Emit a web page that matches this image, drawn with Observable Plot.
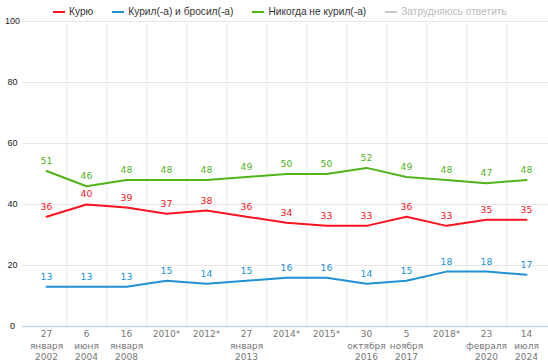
<!DOCTYPE html>
<html><head><meta charset="utf-8">
<script src="https://cdn.jsdelivr.net/npm/d3@7"></script>
<script src="https://cdn.jsdelivr.net/npm/@observablehq/plot@0.6"></script>
<style>
body{margin:0;background:#fff;}
#wrap{position:relative;width:548px;height:362px;}
#legend{position:absolute;top:4px;left:53px;display:flex;gap:19px;font:10.2px "Liberation Sans",Arial,sans-serif;color:#333;white-space:nowrap;line-height:15px;height:15px;}
.item{display:flex;align-items:center;}
.sw{display:inline-block;width:12px;height:2px;margin-right:4px;}
</style></head>
<body>
<div id="wrap"><div id="legend"></div><div id="chart"></div></div>
<script>
const dates = ["27\nянваря\n2002","6\nиюня\n2004","16\nянваря\n2008","2010*","2012*","27\nянваря\n2013","2014*","2015*","30\nоктября\n2016","5\nноября\n2017","2018*","23\nфевраля\n2020","14\nиюля\n2024"];
const smoke = [36,40,39,37,38,36,34,33,33,36,33,35,35];
const quit = [13,13,13,15,14,15,16,16,14,15,18,18,17];
const never = [51,46,48,48,48,49,50,50,52,49,48,47,48];
const seriesNames = ["Курю","Курил(-а) и бросил(-а)","Никогда не курил(-а)","Затрудняюсь ответить"];
const seriesColors = ["#fb1420","#2290d6","#50b418","#c8c8c8"];
const yTicks = [0,20,40,60,80,100];

const seriesValues = [smoke, quit, never];
const rows = [];
seriesValues.forEach((vals, s) => vals.forEach((v, i) => rows.push({date: dates[i], value: v, series: seriesNames[s]})));

const legend = document.getElementById("legend");
seriesNames.forEach((n, i) => {
  const it = document.createElement("div"); it.className = "item";
  const sw = document.createElement("span"); sw.className = "sw"; sw.style.background = seriesColors[i];
  const tx = document.createElement("span"); tx.textContent = n; if (i === 3) tx.style.color = "#bbb";
  it.appendChild(sw); it.appendChild(tx); legend.appendChild(it);
});

const chart = Plot.plot({
  width: 548, height: 362,
  marginTop: 21, marginBottom: 36, marginLeft: 22, marginRight: 0,
  style: {fontFamily: "'DejaVu Sans', Verdana, sans-serif", background: "transparent", overflow: "visible"},
  x: {type: "point", domain: dates, range: [42.75, 528.75], padding: 0},
  y: {domain: [0, 100]},
  color: {domain: seriesNames, range: seriesColors},
  marks: [
    Plot.ruleY(yTicks.filter(d => d > 0), {stroke: "#e6e6e6", strokeWidth: 1}),
    Plot.ruleX(dates.slice(0, -1), {x: d => d, dx: 20.25, y1: 0, y2: 100, stroke: "#e6e6e6", insetBottom: -3}),
    Plot.ruleY([0], {stroke: "#c6d8ea", strokeWidth: 1.5}),
    Plot.axisY({ticks: yTicks, tickSize: 0, tickPadding: 10, textAnchor: "middle", fontSize: 9, fontFamily: "'Liberation Sans', Arial, sans-serif", fill: "#222", label: null}),
    Plot.axisX({tickSize: 0, tickPadding: 2, fontSize: 9, lineHeight: 1.31, fill: "#777", label: null}),
    Plot.lineY(rows, {x: "date", y: "value", stroke: "series", strokeWidth: 2}),
    Plot.text(rows, {x: "date", y: "value", text: d => String(d.value), fill: "series", dy: -10, fontSize: 9.3})
  ]
});
document.getElementById("chart").appendChild(chart);
</script>
</body></html>
